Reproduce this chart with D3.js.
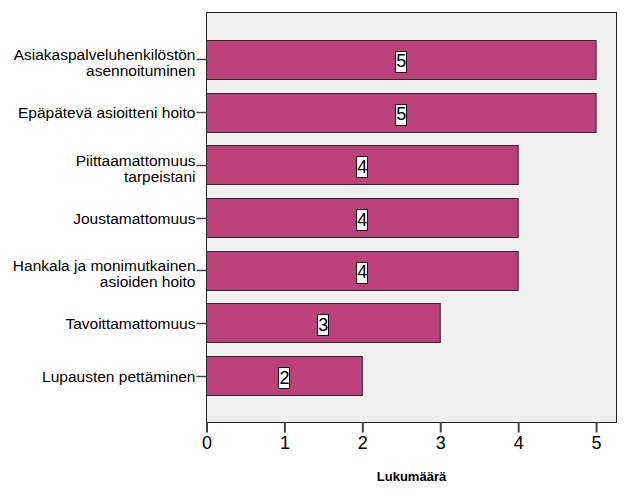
<!DOCTYPE html>
<html><head><meta charset="utf-8">
<script src="https://cdn.jsdelivr.net/npm/d3@7"></script>
<style>body{margin:0;background:#fff;} svg{display:block;}</style>
</head><body>
<script>
const categories = [
  ["Asiakaspalveluhenkilöstön", "asennoituminen"],
  ["Epäpätevä asioitteni hoito"],
  ["Piittaamattomuus", "tarpeistani"],
  ["Joustamattomuus"],
  ["Hankala ja monimutkainen", "asioiden hoito"],
  ["Tavoittamattomuus"],
  ["Lupausten pettäminen"]
];
const values = [5, 5, 4, 4, 4, 3, 2];
const xTicks = [0, 1, 2, 3, 4, 5];
const xTitle = "Lukumäärä";

const W = 629, H = 504;
const m = {left: 206.5, right: 12.5, top: 12.5, bottom: 81.5};
const svg = d3.select("body").append("svg").attr("width", W).attr("height", H);
const font = "Liberation Sans, Arial, sans-serif";

const x = d3.scaleLinear().domain([0, 5.262]).range([m.left, W - m.right]);
const y = d3.scaleBand().domain(d3.range(categories.length))
  .range([m.top, H - m.bottom]).paddingInner(0.26).paddingOuter(0.52);

svg.append("rect").attr("x", m.left).attr("y", m.top)
  .attr("width", W - m.right - m.left).attr("height", H - m.bottom - m.top)
  .attr("fill", "#efefef").attr("stroke", "#222").attr("stroke-width", 1);

svg.selectAll("rect.bar").data(values).join("rect").attr("class", "bar")
  .attr("x", x(0)).attr("y", (d, i) => Math.round(y(i)) + 0.5)
  .attr("width", d => x(d) - x(0)).attr("height", Math.round(y.bandwidth()))
  .attr("fill", "#bc4079").attr("stroke", "#2a2a2a").attr("stroke-width", 1);

// value labels
const lab = svg.selectAll("g.vl").data(values).join("g").attr("class", "vl");
lab.each(function(d, i) {
  const g = d3.select(this);
  const cx = x(d / 2), cy = y(i) + y.bandwidth() / 2 + 2;
  const t = g.append("text").attr("x", cx).attr("y", cy)
    .attr("text-anchor", "middle").attr("dominant-baseline", "central")
    .attr("font-family", font).attr("font-size", 18).attr("fill", "#000").text(d);
  const bb = t.node().getBBox();
  g.insert("rect", "text").attr("x", Math.round(bb.x) - 0.5).attr("y", Math.round(cy - 10.5) + 0.5)
    .attr("width", Math.round(bb.width) + 1).attr("height", 21)
    .attr("fill", "#fff").attr("stroke", "#111").attr("stroke-width", 1);
});

// x axis
const xa = svg.append("g").attr("transform", `translate(0,${H - m.bottom})`)
  .call(d3.axisBottom(x).tickValues(xTicks).tickFormat(d3.format("d"))
    .tickSize(10).tickSizeOuter(0).tickPadding(4));
xa.select(".domain").remove();
xa.selectAll("line").attr("stroke", "#444").attr("stroke-width", 2);
xa.selectAll("text").attr("font-family", font).attr("font-size", 18).attr("fill", "#000");

// y axis ticks & labels
const ya = svg.append("g");
categories.forEach((lines, i) => {
  const cy = Math.round(y(i) + y.bandwidth() / 2) + 0.5;
  ya.append("line").attr("x1", m.left - 10).attr("x2", m.left).attr("y1", cy).attr("y2", cy)
    .attr("stroke", "#444").attr("stroke-width", 1.5);
  const t = ya.append("text").attr("text-anchor", "end").attr("font-family", font)
    .attr("font-size", 15.5).attr("fill", "#000");
  if (lines.length === 1) {
    t.append("tspan").attr("x", m.left - 11).attr("y", cy + 5).text(lines[0]);
  } else {
    lines.forEach((l, k) => t.append("tspan").attr("x", m.left - 11).attr("y", cy + 0 + k * 16).text(l));
  }
});

svg.append("text").attr("x", (m.left + W - m.right) / 2).attr("y", 481)
  .attr("text-anchor", "middle").attr("font-family", font).attr("font-size", 13)
  .attr("font-weight", "bold").attr("fill", "#000").text(xTitle);
</script>
</body></html>
